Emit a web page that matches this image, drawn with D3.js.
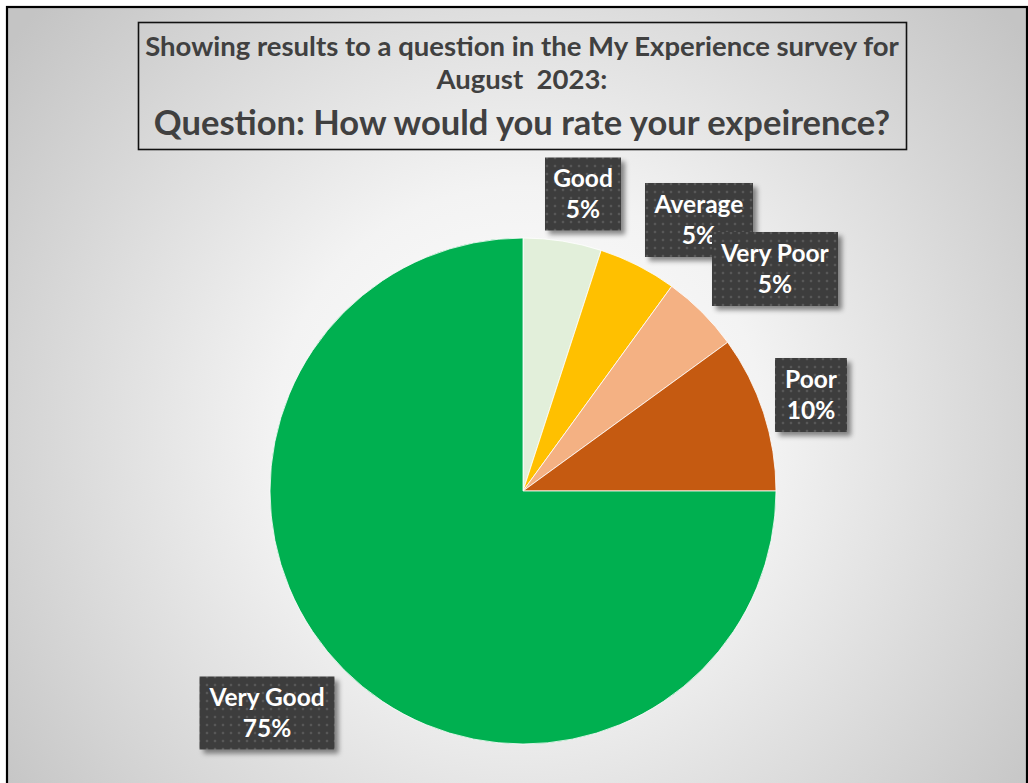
<!DOCTYPE html>
<html>
<head>
<meta charset="utf-8">
<script src="https://cdn.jsdelivr.net/npm/d3@7"></script>
<style>
  html, body { margin: 0; padding: 0; background: #ffffff; }
  svg { display: block; }
  text { white-space: pre; }
</style>
</head>
<body>
<script>
// Survey results: "How would you rate your experience?" – August 2023
const categories = ["Good", "Average", "Very Poor", "Poor", "Very Good"];
const shares = [5, 5, 5, 10, 75];
const sliceColors = ["#E2EFDA", "#FFC000", "#F4B183", "#C55A11", "#00B050"];
const titleLines = [
  "Showing results to a question in the My Experience survey for",
  "August  2023:",
  "Question: How would you rate your expeirence?"
];

const W = 1028, H = 783;
const cx = 523, cy = 491, R = 253;
const FONT = "Lato, 'Open Sans', sans-serif";

// Callout placement relative to the pie centre (box centre and size)
const calloutLayout = {
  "Good":      { dx: 60,   dy: -297, w: 76,  h: 73 },
  "Average":   { dx: 176,  dy: -271, w: 108, h: 74 },
  "Very Poor": { dx: 252,  dy: -222, w: 126, h: 74 },
  "Poor":      { dx: 288,  dy: -96,  w: 72,  h: 74 },
  "Very Good": { dx: -256, dy: 222,  w: 135, h: 73 }
};

const svg = d3.select("body").append("svg")
  .attr("width", W).attr("height", H);

const defs = svg.append("defs");

const bg = defs.append("radialGradient")
  .attr("id", "bgGrad")
  .attr("gradientUnits", "userSpaceOnUse")
  .attr("cx", 520).attr("cy", 430).attr("r", 640);
bg.append("stop").attr("offset", 0).attr("stop-color", "#ffffff");
bg.append("stop").attr("offset", 0.38).attr("stop-color", "#f3f3f3");
bg.append("stop").attr("offset", 1).attr("stop-color", "#c4c4c4");

const dots = defs.append("pattern")
  .attr("id", "dots")
  .attr("patternUnits", "userSpaceOnUse")
  .attr("width", 8).attr("height", 8);
dots.append("rect").attr("width", 8).attr("height", 8).attr("fill", "#3e3e3e");
dots.append("circle").attr("cx", 4).attr("cy", 4).attr("r", 1.3).attr("fill", "#585858");

const shadow = defs.append("filter")
  .attr("id", "shadow")
  .attr("x", "-20%").attr("y", "-20%").attr("width", "150%").attr("height", "150%");
shadow.append("feDropShadow")
  .attr("dx", 4).attr("dy", 4).attr("stdDeviation", 2.5)
  .attr("flood-color", "#000").attr("flood-opacity", 0.45);

// Background and frame
svg.append("rect")
  .attr("x", 7).attr("y", 7).attr("width", W - 8).attr("height", H)
  .attr("fill", "url(#bgGrad)")
  .attr("stroke", "#000").attr("stroke-width", 2.2);

// Title box
const titleG = svg.append("g");
titleG.append("rect")
  .attr("x", 138.5).attr("y", 22.5).attr("width", 768).attr("height", 127)
  .attr("fill", "none").attr("stroke", "#111").attr("stroke-width", 1.6);
const titleSpecs = [
  { y: 56, size: 27.5 },
  { y: 89, size: 27.5 },
  { y: 135, size: 34.5 }
];
titleG.selectAll("text").data(titleLines).join("text")
  .attr("x", 522)
  .attr("y", (d, i) => titleSpecs[i].y)
  .attr("text-anchor", "middle")
  .attr("font-family", FONT)
  .attr("font-weight", "bold")
  .attr("font-size", (d, i) => titleSpecs[i].size)
  .attr("fill", "#404040")
  .text(d => d);

// Pie
const data = categories.map((c, i) => ({ category: c, value: shares[i], color: sliceColors[i] }));
const pie = d3.pie().value(d => d.value).sort(null);
const arc = d3.arc().innerRadius(0).outerRadius(R);

const pieG = svg.append("g").attr("transform", `translate(${cx},${cy})`);
pieG.selectAll("path").data(pie(data)).join("path")
  .attr("d", arc)
  .attr("fill", d => d.data.color)
  .attr("stroke", "#ffffff")
  .attr("stroke-width", 0.8);

// Data callouts
const total = d3.sum(shares);
const labelG = pieG.selectAll("g.callout").data(data).join("g")
  .attr("class", "callout")
  .attr("transform", d => {
    const L = calloutLayout[d.category];
    return `translate(${L.dx},${L.dy})`;
  });
labelG.append("rect")
  .attr("x", d => -calloutLayout[d.category].w / 2)
  .attr("y", d => -calloutLayout[d.category].h / 2)
  .attr("width", d => calloutLayout[d.category].w)
  .attr("height", d => calloutLayout[d.category].h)
  .attr("fill", "url(#dots)")
  .attr("filter", "url(#shadow)");
labelG.append("text")
  .attr("y", -7)
  .attr("text-anchor", "middle")
  .attr("font-family", FONT).attr("font-weight", "bold").attr("font-size", 24.5)
  .attr("fill", "#ffffff")
  .text(d => d.category);
labelG.append("text")
  .attr("y", 24)
  .attr("text-anchor", "middle")
  .attr("font-family", FONT).attr("font-weight", "bold").attr("font-size", 24.5)
  .attr("fill", "#ffffff")
  .text(d => d3.format(".0%")(d.value / total));
</script>
</body>
</html>
